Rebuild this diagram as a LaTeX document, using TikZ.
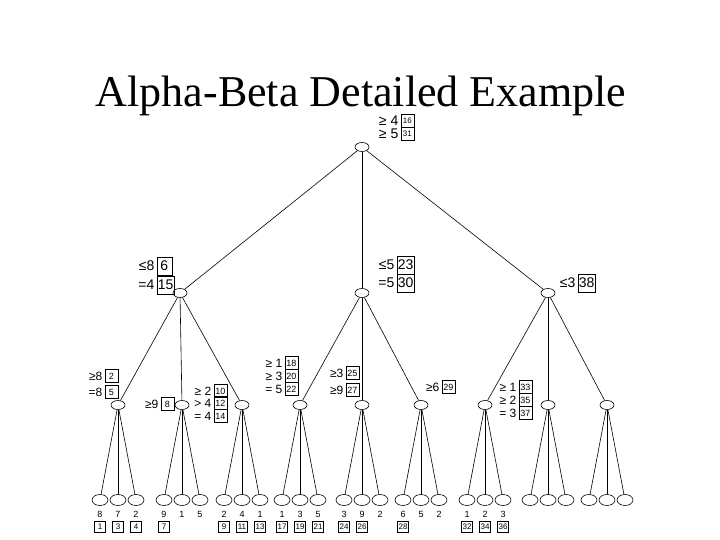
\documentclass[tikz,border=0pt]{standalone}
\usepackage{fontspec}
\setmainfont{Liberation Serif}
\newfontfamily\annfont{Liberation Sans}
\usetikzlibrary{shapes.geometric}
\tikzset{
  nd/.style={ellipse,draw,line width=0.6pt,minimum width=14pt,minimum height=9pt,inner sep=0pt},
  lf/.style={ellipse,draw,line width=0.6pt,minimum width=16pt,minimum height=11pt,inner sep=0pt},
  edge/.style={line width=0.6pt},
  anntxt/.style={font=\annfont\fontsize{14}{14}\selectfont,inner sep=0.5pt,anchor=east},
  annbox/.style={draw,line width=0.6pt,font=\annfont\fontsize{14}{14}\selectfont,inner sep=1pt,minimum width=15pt,minimum height=18pt,anchor=west},
  rttxt/.style={font=\annfont\fontsize{14}{14}\selectfont,inner sep=0.5pt,anchor=east},
  rtbox/.style={draw,line width=0.6pt,font=\annfont\fontsize{8}{8}\selectfont,inner sep=1pt,minimum width=13pt,minimum height=12.5pt,anchor=west},
  smtxt/.style={font=\annfont\fontsize{12}{12}\selectfont,inner sep=0.5pt,anchor=east},
  smbox/.style={draw,line width=0.6pt,font=\annfont\fontsize{9}{9}\selectfont,inner sep=1pt,minimum width=13pt,minimum height=12.5pt,anchor=west},
  val/.style={font=\annfont\fontsize{9}{9}\selectfont,inner sep=0pt},
  lbox/.style={draw,line width=0.6pt,font=\annfont\fontsize{8}{8}\selectfont,inner sep=1pt,minimum width=11pt,minimum height=11pt},
}
\newcommand{\annline}[6]{% style prefix, name, x, y, text, num
  \node[#1txt] (#2t) at (#3,#4) {#5};
  \node[#1box] (#2b) at ([xshift=1.5pt]#2t.east) {#6};
}
\begin{document}
\begin{tikzpicture}[x=1pt,y=-1pt]
\useasboundingbox (0,0) rectangle (720,540);
\node[font=\fontsize{44}{44}\selectfont] (title) at (361,96) {Alpha-Beta Detailed Example};

% tree nodes
\node[nd] (r) at (362,147) {};
\node[nd] (a) at (180,293) {};
\node[nd] (b) at (362,293) {};
\node[nd] (c) at (548,293) {};
\foreach \n/\x in {a1/118,a2/182,a3/242,b1/300,b2/362,b3/421,c1/485,c2/548,c3/607}{
  \node[nd] (\n) at (\x,405) {};
  \node[lf] (\n-1) at (\x-18,500) {};
  \node[lf] (\n-2) at (\x,500) {};
  \node[lf] (\n-3) at (\x+18,500) {};
  \draw[edge] (\n) -- (\n-1);
  \draw[edge] (\n) -- (\n-2);
  \draw[edge] (\n) -- (\n-3);
}
\foreach \p in {a,b,c}{
  \draw[edge] (r) -- (\p);
  \foreach \k in {1,2,3}{ \draw[edge] (\p) -- (\p\k); }
}

% leaf values
\foreach \n/\u/\v/\w in {a1/8/7/2,a2/9/1/5,a3/2/4/1,b1/1/3/5,b2/3/9/2,b3/6/5/2,c1/1/2/3}{
  \node[val] (\n-v1) at ([yshift=-14pt]\n-1) {\u};
  \node[val] (\n-v2) at ([yshift=-14pt]\n-2) {\v};
  \node[val] (\n-v3) at ([yshift=-14pt]\n-3) {\w};
}
% leaf order boxes
\foreach \n/\k/\t in {a1/1/1,a1/2/3,a1/3/4,a2/1/7,a3/1/9,a3/2/11,a3/3/13,b1/1/17,b1/2/19,b1/3/21,b2/1/24,b2/2/26,b3/1/28,c1/1/32,c1/2/34,c1/3/36}{
  \node[lbox] (\n-o\k) at ([yshift=-27pt]\n-\k) {\t};
}

% annotations
\annline{rt}{r1}{399}{121}{≥ 4}{16}
\annline{rt}{r2}{399}{134}{≥ 5}{31}

\annline{ann}{aa1}{155}{266}{≤8}{6}
\annline{ann}{aa2}{155}{285}{=4}{15}
\annline{ann}{bb1}{395}{265}{≤5}{23}
\annline{ann}{bb2}{395}{283}{=5}{30}
\annline{ann}{cc1}{576}{283}{≤3}{38}

\annline{sm}{x11}{103}{376}{≥8}{2}
\annline{sm}{x12}{103}{392}{=8}{5}
\annline{sm}{x21}{159}{404}{≥9}{8}
\annline{sm}{x31}{212}{391}{≥ 2}{10}
\annline{sm}{x32}{212}{403}{> 4}{12}
\annline{sm}{x33}{212}{416}{= 4}{14}
\annline{sm}{y11}{283}{363}{≥ 1}{18}
\annline{sm}{y12}{283}{376}{≥ 3}{20}
\annline{sm}{y13}{283}{389}{= 5}{22}
\annline{sm}{y21}{344}{373}{≥3}{25}
\annline{sm}{y22}{344}{390}{≥9}{27}
\annline{sm}{y31}{440}{387}{≥6}{29}
\annline{sm}{z11}{517}{387}{≥ 1}{33}
\annline{sm}{z12}{517}{400}{≥ 2}{35}
\annline{sm}{z13}{517}{413}{= 3}{37}
\end{tikzpicture}
\end{document}
